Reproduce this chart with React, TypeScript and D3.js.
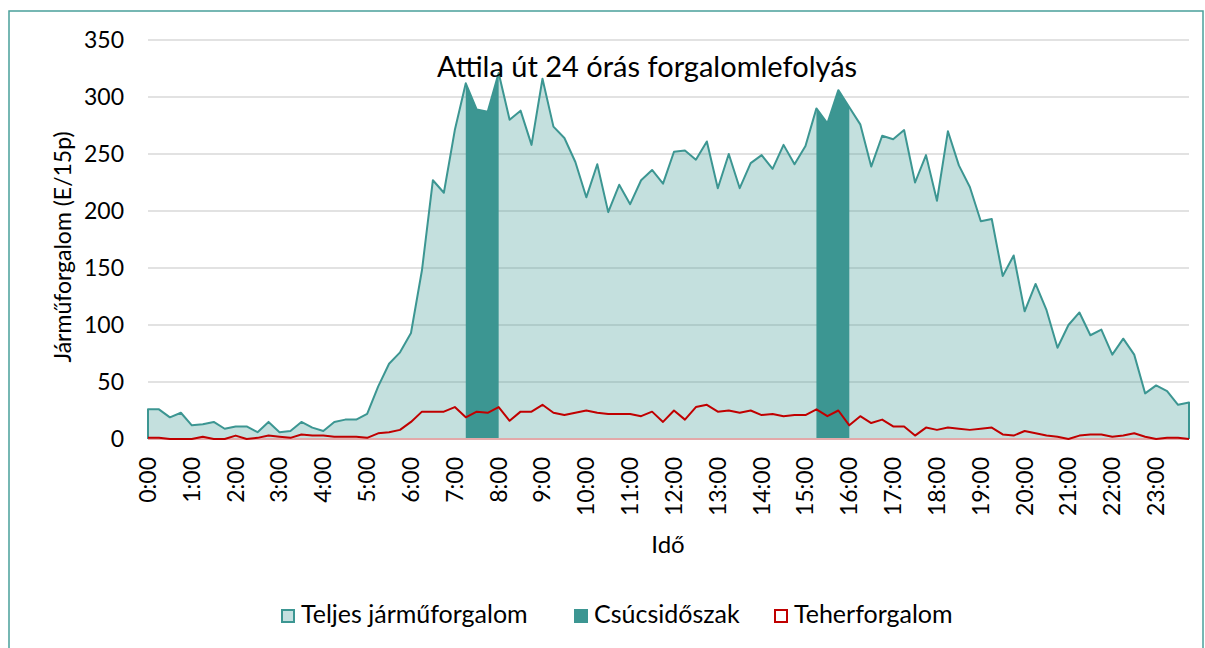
import React from 'react';
import * as d3 from 'd3';

// 15-minute intervals, 0:00 .. 23:45
const times: string[] = d3.range(96).map(i => `${Math.floor(i / 4)}:${String((i % 4) * 15).padStart(2, '0')}`);

// Teljes járműforgalom (E/15p)
const totalTraffic = [
  26, 26, 19, 23, 12, 13, 15, 9, 11, 11, 6, 15, 6, 7, 15, 10,
  7, 15, 17, 17, 22, 46, 66, 76, 93, 148, 227, 216, 271, 312, 289, 287,
  321, 280, 288, 258, 316, 274, 264, 243, 212, 241, 199, 223, 206, 227, 236, 224,
  252, 253, 245, 261, 220, 250, 220, 242, 249, 237, 258, 241, 257, 290, 277, 306,
  291, 276, 239, 266, 263, 271, 225, 249, 209, 270, 240, 221, 191, 193, 143, 161,
  112, 136, 113, 80, 100, 111, 91, 96, 74, 88, 74, 40, 47, 42, 30, 32,
];

// Teherforgalom (E/15p)
const truckTraffic = [
  1, 1, 0, 0, 0, 2, 0, 0, 3, 0, 1, 3, 2, 1, 4, 3,
  3, 2, 2, 2, 1, 5, 6, 8, 15, 24, 24, 24, 28, 19, 24, 23,
  28, 16, 24, 24, 30, 23, 21, 23, 25, 23, 22, 22, 22, 20, 24, 15,
  25, 17, 28, 30, 24, 25, 23, 25, 21, 22, 20, 21, 21, 26, 20, 25,
  12, 20, 14, 17, 11, 11, 3, 10, 8, 10, 9, 8, 9, 10, 4, 3,
  7, 5, 3, 2, 0, 3, 4, 4, 2, 3, 5, 2, 0, 1, 1, 0,
];

// Csúcsidőszak: peak periods (start, end)
const peakPeriods: [string, string][] = [
  ['7:15', '8:00'],
  ['15:15', '16:00'],
];

const yTicks = [0, 50, 100, 150, 200, 250, 300, 350];
const xTickLabels = times.filter((_, i) => i % 4 === 0);

const legendItems = [
  { label: 'Teljes járműforgalom', kind: 'total' },
  { label: 'Csúcsidőszak', kind: 'peak' },
  { label: 'Teherforgalom', kind: 'truck' },
];

const TEAL = '#3c9692';
const AREA = 'rgba(58,152,147,0.3)';
const RED = '#c00000';
const FONT = 'Lato, Carlito, "Open Sans", sans-serif';

export default function App() {
  const width = 1205;
  const height = 648;

  const x = d3.scalePoint<string>().domain(times).range([148, 1189]);
  const y = d3.scaleLinear().domain([0, 350]).range([439, 40]);

  const area = d3.area<number>()
    .x((_, i) => x(times[i])!)
    .y0(y(0))
    .y1(d => y(d));

  const outline = d3.line<[number, number]>();
  const totalPts: [number, number][] = totalTraffic.map((d, i) => [x(times[i])!, y(d)]);
  const outlinePts: [number, number][] = [
    [x(times[0])!, y(0)],
    ...totalPts,
    [x(times[times.length - 1])!, y(0)],
  ];

  const truckLine = d3.line<number>()
    .x((_, i) => x(times[i])!)
    .y(d => y(d));

  const peakPaths = peakPeriods.map(([s, e]) => {
    const i0 = times.indexOf(s);
    const i1 = times.indexOf(e);
    const seg = d3.range(i0, i1 + 1);
    return d3.area<number>()
      .x(i => x(times[i])!)
      .y0(y(0))
      .y1(i => y(totalTraffic[i]))(seg);
  });

  const legendX = [281, 574, 774];

  return (
    <svg width={width} height={height} style={{ position: 'absolute', left: 0, top: 0, background: '#fff' }}
      fontFamily={FONT}>
      <rect x={9} y={11} width={1194} height={660} fill="#fff" stroke="#4aa09b" strokeWidth={1.5} />

      {/* gridlines */}
      {yTicks.map(t => (
        <line key={t} x1={148} x2={1189} y1={y(t)} y2={y(t)} stroke="#d9d9d9" strokeWidth={1.5} />
      ))}

      {/* total traffic area */}
      <path d={area(totalTraffic)!} fill={AREA} />

      {/* peak periods */}
      {peakPaths.map((d, i) => <path key={i} d={d!} fill={TEAL} />)}

      <path d={outline(outlinePts)!} fill="none" stroke={TEAL} strokeWidth={2} strokeLinejoin="round" />

      {/* zero line */}
      <line x1={148} x2={1189} y1={y(0)} y2={y(0)} stroke="#e3a9a9" strokeWidth={2} />

      {/* truck traffic */}
      <path d={truckLine(truckTraffic)!} fill="none" stroke={RED} strokeWidth={2} strokeLinejoin="round" />

      {/* y axis labels */}
      {yTicks.map(t => (
        <text key={t} x={124} y={y(t)} dy="0.35em" textAnchor="end" fontSize={23} fill="#000">{t}</text>
      ))}

      {/* x axis labels */}
      {xTickLabels.map(l => (
        <text key={l} transform={`translate(${x(l)! + 8},457) rotate(-90)`} textAnchor="end" fontSize={23} fill="#000">{l}</text>
      ))}

      <text x={647} y={77} textAnchor="middle" fontSize={29} fill="#000">Attila út 24 órás forgalomlefolyás</text>

      <text transform="translate(71,247) rotate(-90)" textAnchor="middle" fontSize={23} fill="#000">Járműforgalom (E/15p)</text>

      <text x={668} y={553} textAnchor="middle" fontSize={24} fill="#000">Idő</text>

      {/* legend */}
      {legendItems.map((it, i) => (
        <g key={it.kind} transform={`translate(${legendX[i]},609)`}>
          {it.kind === 'total' && <rect x={1} y={1} width={12} height={12} fill="#c5e0e0" stroke={TEAL} strokeWidth={2} />}
          {it.kind === 'peak' && <rect x={0} y={0} width={14} height={14} fill={TEAL} />}
          {it.kind === 'truck' && <rect x={1} y={1} width={12} height={12} fill="#fff" stroke={RED} strokeWidth={2} />}
          <text x={20} y={14} fontSize={25} fill="#000">{it.label}</text>
        </g>
      ))}
    </svg>
  );
}
